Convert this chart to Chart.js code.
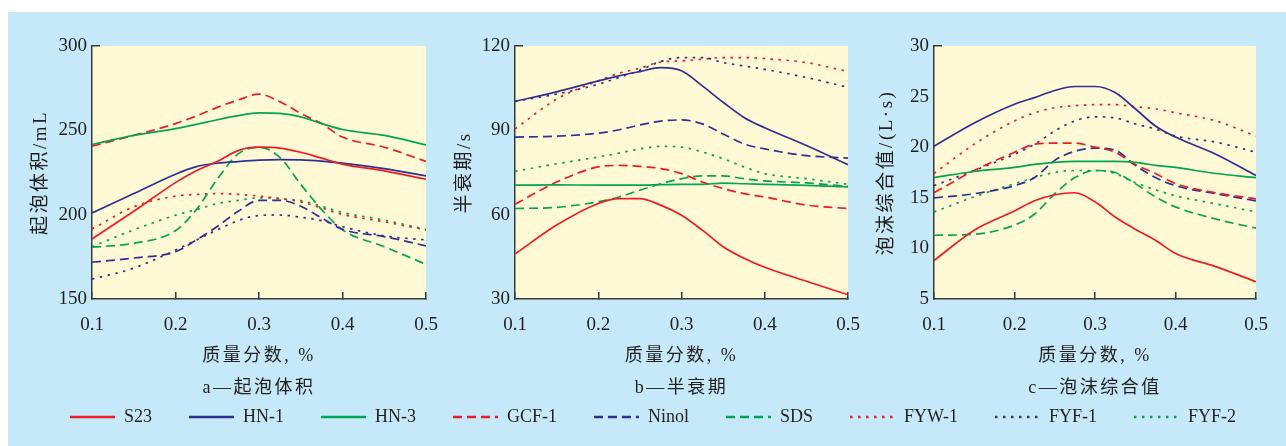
<!DOCTYPE html>
<html>
<head>
<meta charset="utf-8">
<script src="https://cdn.jsdelivr.net/npm/chart.js@4.4.1/dist/chart.umd.min.js"></script>
<style>
html,body{margin:0;padding:0;background:#fff;width:1286px;height:446px;overflow:hidden;position:relative}
#panel{position:absolute;left:8px;top:12px;width:1278px;height:434px;background:#C5E9F8}
canvas{position:absolute}
</style>
</head>
<body>
<div id="panel"></div>
<canvas id="c1" width="462" height="392" style="left:0px;top:12px"></canvas>
<canvas id="c2" width="444" height="392" style="left:440px;top:12px"></canvas>
<canvas id="c3" width="432" height="392" style="left:860px;top:12px"></canvas>
<canvas id="leg" width="1286" height="100" style="left:0px;top:371px"></canvas>
<script>
// ---------- data ----------
const xGrid = [0.1, 0.15, 0.2, 0.225, 0.25, 0.275, 0.3, 0.325, 0.35, 0.375, 0.4, 0.45, 0.5];
const seriesNames = ['S23', 'HN-1', 'HN-3', 'GCF-1', 'Ninol', 'SDS', 'FYW-1', 'FYF-1', 'FYF-2'];

// a — foaming volume (mL)
const volS23   = [185.6, 202, 219, 226, 231.5, 238, 240, 239.5, 237, 233.5, 230, 226, 221];
const volHN1   = [201, 212.5, 224, 228.5, 230.5, 231.5, 232.3, 232.6, 232.5, 231.8, 230.6, 227.3, 223];
const volHN3   = [241.6, 247, 251, 253.5, 256.3, 258.7, 260.3, 260, 258, 254, 250.5, 247, 241.4];
const volGCF1  = [240.6, 247, 254, 258.5, 263.6, 268, 271.5, 267, 260, 254, 246, 240, 231.6];
const volNinol = [171.8, 174.3, 178, 185, 193, 202, 208.5, 208.5, 205, 198, 191.3, 187, 181.5];
const volSDS   = [180.7, 183, 190.5, 203, 221, 236, 240, 234, 218, 203, 191, 181, 170.6];
const volFYW1  = [191.5, 204.7, 211, 212, 212.5, 212, 211, 209.5, 207.6, 204, 200.1, 195.8, 190.9];
const volFYF1  = [161.8, 168.3, 179, 185, 191, 196.5, 199.5, 199.8, 198.5, 196.5, 192.9, 187.4, 185];
const volFYF2  = [181, 191, 199.7, 203, 206.6, 208.5, 210, 209.5, 208.3, 205, 201.3, 196.8, 191.3];

// b — half-life (s)
const halfS23   = [46, 56.3, 64, 65.7, 65.7, 63.4, 59.8, 54.5, 48.6, 44.5, 41.3, 36.3, 31.5];
const halfHN1   = [100.3, 103.7, 107.6, 109.4, 110.9, 112.3, 111.2, 105.8, 100, 94.6, 90.9, 84.6, 77.8];
const halfHN3   = [70.5, 70.6, 70.5, 70.5, 70.5, 70.7, 70.8, 70.8, 71.2, 71, 70.8, 70.4, 69.9];
const halfGCF1  = [63.7, 71.6, 77, 77.5, 77.2, 76.4, 74.6, 71.6, 69.3, 67.5, 66.3, 63.4, 62.2];
const halfNinol = [87.6, 87.9, 89, 90.2, 91.9, 93.3, 93.7, 92.3, 88.7, 85.2, 83.4, 81, 80.1];
const halfSDS   = [62.2, 62.6, 64.6, 66.3, 68.7, 71, 72.8, 73.8, 73.8, 72.8, 72, 71.3, 70.1];
const halfFYW1  = [90.5, 101.1, 107.6, 110.3, 112.1, 114.3, 114.7, 115.3, 115.9, 115.9, 115.5, 114.1, 110.9];
const halfFYF1  = [100.3, 102.9, 106.4, 108.8, 111.4, 114.5, 115.9, 115.9, 114.1, 112.9, 111.7, 108.8, 105.3];
const halfFYF2  = [75.4, 78.1, 80.5, 81.9, 83.4, 84.3, 84, 82.3, 79.9, 77, 74.6, 72.8, 70.8];

// c — foam composite value (L·s)
const compS23   = [8.8, 11.8, 13.7, 14.7, 15.3, 15.5, 14.6, 13.1, 11.9, 10.8, 9.5, 8.2, 6.7];
const compHN1   = [20.1, 22.4, 24.25, 24.9, 25.6, 26, 26, 25.4, 23.8, 22.1, 21, 19.3, 17.2];
const compHN3   = [17, 17.6, 18, 18.3, 18.5, 18.6, 18.6, 18.6, 18.5, 18.2, 18, 17.4, 17];
const compGCF1  = [15.5, 17.7, 19.5, 20.3, 20.4, 20.4, 20, 19.5, 18.3, 17.4, 16.4, 15.5, 14.9];
const compNinol = [15, 15.4, 16.2, 17, 18.7, 19.6, 19.9, 19.7, 18.2, 17, 16.2, 15.4, 14.7];
const compSDS   = [11.3, 11.4, 12.3, 13.4, 15.4, 17, 17.7, 17.5, 16.4, 15.1, 14.1, 12.9, 12];
const compFYW1  = [17.4, 20.3, 22.6, 23.4, 23.9, 24.1, 24.2, 24.2, 24, 23.8, 23.4, 22.6, 21.1];
const compFYF1  = [16.2, 17.7, 19.3, 20.3, 21.6, 22.6, 23, 22.9, 22.3, 21.8, 21.1, 20.5, 19.5];
const compFYF2  = [13.6, 15.1, 16.4, 17, 17.5, 17.7, 17.7, 17.4, 16.5, 15.8, 15.2, 14.4, 13.6];

const xTitle = '质量分数, %';
const panelTitles = ['a—起泡体积', 'b—半衰期', 'c—泡沫综合值'];
const yTitles = ['起泡体积/mL', '半衰期/s', '泡沫综合值/(L·s)'];
const yTicks1 = [150, 300, 50];
const yTicks2 = [30, 120, 30];
const yTicks3 = [5, 30, 5];

// ---------- styles ----------
const RED = '#ED1C24', BLUE = '#2E3192', GREEN = '#00A651';
const colors = [RED, BLUE, GREEN, RED, BLUE, GREEN, RED, BLUE, GREEN];
const DASH = [9, 5], DOT = [2.5, 5.5];
const dashes = [[], [], [], DASH, DASH, DASH, DOT, DOT, DOT];
const TEXT = '#231F20', AXIS = '#3A3A3A';
const SERIF = "'Liberation Serif', 'Times New Roman', 'Noto Sans CJK SC', serif";

const plotBg = {
  id: 'plotBg',
  beforeDraw(chart) {
    const {ctx, chartArea: a} = chart;
    ctx.save();
    ctx.fillStyle = '#FFF9D6';
    ctx.fillRect(a.left, a.top, a.right - a.left, a.bottom - a.top);
    ctx.restore();
  }
};
const spacedTitles = {
  id: 'spacedTitles',
  beforeDraw(chart) {
    Object.values(chart.scales).forEach(s => {
      if (s._spaced) return;
      const orig = s.drawTitle;
      s.drawTitle = function () {
        const c = this.ctx;
        const prev = c.letterSpacing;
        c.letterSpacing = '2.5px';
        orig.call(this);
        c.letterSpacing = prev || '0px';
      };
      s._spaced = true;
    });
  }
};

function makePanel(id, seriesList, yT, yTitle, subTitle, yWidth, padRight, yTitlePad) {
  const datasets = seriesList.map((vals, i) => ({
    label: seriesNames[i],
    data: xGrid.map((x, k) => ({x: x, y: vals[k]})),
    borderColor: colors[i],
    backgroundColor: colors[i],
    borderDash: dashes[i],
    borderWidth: 1.7,
    pointRadius: 0,
    cubicInterpolationMode: 'monotone',
    fill: false
  }));
  return new Chart(document.getElementById(id), {
    type: 'line',
    data: {datasets},
    plugins: [plotBg, spacedTitles],
    options: {
      responsive: false,
      animation: false,
      devicePixelRatio: 1,
      layout: {padding: {left: 0, right: padRight, top: 34, bottom: 0}},
      plugins: {legend: {display: false}, tooltip: {enabled: false}},
      scales: {
        x: {
          type: 'linear', min: 0.1, max: 0.5,
          ticks: {stepSize: 0.1, padding: 22, color: TEXT, maxRotation: 0, autoSkip: false,
                  font: {family: SERIF, size: 19}},
          grid: {drawOnChartArea: false, drawTicks: true, tickLength: -7, color: AXIS, lineWidth: 1.5},
          border: {color: AXIS, width: 1.5},
          title: {display: true, text: [xTitle, subTitle], color: TEXT, padding: 0,
                  font: {family: SERIF, size: 18, lineHeight: 32 / 18}},
          afterFit(s) { s.height = 105; }
        },
        y: {
          min: yT[0], max: yT[1],
          ticks: {stepSize: yT[2], padding: 13, color: TEXT, font: {family: SERIF, size: 19}},
          grid: {drawOnChartArea: false, drawTicks: true, tickLength: -8, lineWidth: 1.5,
                 color: c => (c.tick && c.tick.value === yT[1]) ? AXIS : 'rgba(0,0,0,0)'},
          border: {color: AXIS, width: 1.5},
          title: {display: true, text: yTitle, color: TEXT, padding: {top: yTitlePad, bottom: 0},
                  font: {family: SERIF, size: 19, lineHeight: 1.2}},
          afterFit(s) { s.width = yWidth; }
        }
      }
    }
  });
}

makePanel('c1', [volS23, volHN1, volHN3, volGCF1, volNinol, volSDS, volFYW1, volFYF1, volFYF2],
  yTicks1, yTitles[0], panelTitles[0], 92, 36, 30);
makePanel('c2', [halfS23, halfHN1, halfHN3, halfGCF1, halfNinol, halfSDS, halfFYW1, halfFYF1, halfFYF2],
  yTicks2, yTitles[1], panelTitles[1], 75, 36, 14);
makePanel('c3', [compS23, compHN1, compHN3, compGCF1, compNinol, compSDS, compFYW1, compFYF1, compFYF2],
  yTicks3, yTitles[2], panelTitles[2], 74, 36, 16);

// ---------- shared legend ----------
new Chart(document.getElementById('leg'), {
  type: 'line',
  data: {
    datasets: seriesNames.map((n, i) => ({
      label: n, data: [], borderColor: colors[i], backgroundColor: colors[i],
      borderDash: dashes[i], borderWidth: 2.5
    }))
  },
  options: {
    responsive: false,
    animation: false,
    devicePixelRatio: 1,
    layout: {padding: {left: 20, right: 0, top: 0, bottom: 0}},
    scales: {x: {display: false}, y: {display: false}},
    plugins: {
      tooltip: {enabled: false},
      legend: {
        display: true, position: 'top', maxHeight: 100,
        labels: {
          usePointStyle: true, pointStyle: 'line', pointStyleWidth: 45, padding: 37,
          color: TEXT, font: {family: SERIF, size: 18},
          generateLabels(chart) {
            return chart.data.datasets.map((ds, i) => ({
              text: ds.label,
              datasetIndex: i,
              fillStyle: ds.borderColor,
              strokeStyle: ds.borderColor,
              fontColor: TEXT,
              lineWidth: 2.5,
              lineDash: ds.borderDash,
              lineCap: 'butt',
              pointStyle: 'line',
              hidden: false
            }));
          }
        }
      }
    }
  }
});
</script>
</body>
</html>
